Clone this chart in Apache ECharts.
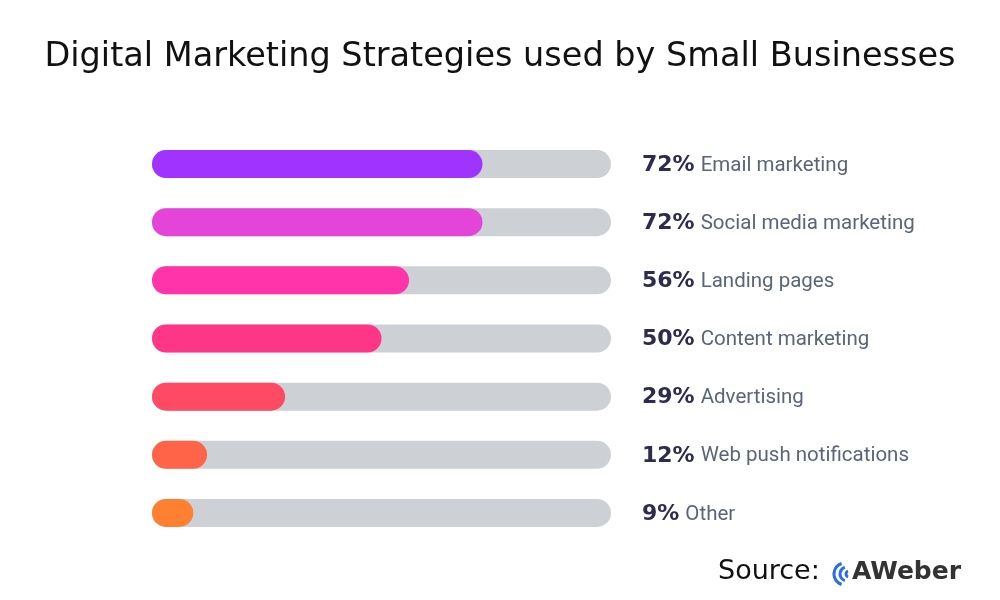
<!DOCTYPE html>
<html><head><meta charset="utf-8">
<script src="https://cdn.jsdelivr.net/npm/echarts@6/dist/echarts.min.js"></script>
<style>html,body{margin:0;padding:0;background:#fff}#c{width:1000px;height:600px}</style>
</head><body><div id="c"></div>
<script>
const categories = ['Email marketing','Social media marketing','Landing pages','Content marketing','Advertising','Web push notifications','Other'];
const values = [72,72,56,50,29,12,9];
const barColors = ['#A033FF','#E444D8','#FF33AA','#FF3688','#FF4A64','#FF6348','#FF8030'];

const chart = echarts.init(document.getElementById('c'));
chart.setOption({
  backgroundColor:'#fff',
  title:{text:'Digital Marketing Strategies used by Small Businesses',left:'center',top:35,
    textStyle:{fontFamily:'DejaVu Sans',fontSize:33.5,fontWeight:'normal',color:'#111'}},
  grid:{left:152,right:389,top:135,bottom:58},
  xAxis:{type:'value',min:0,max:100,show:false},
  yAxis:{type:'category',data:categories,inverse:true,position:'right',
    axisLine:{show:false},axisTick:{show:false},
    axisLabel:{margin:31,align:'left',
      formatter:(v,i)=>'{p|'+values[i]+'%}{c|'+v+'}',
      rich:{p:{fontFamily:'DejaVu Sans',fontWeight:'bold',fontSize:22,color:'#2D2B4E',padding:[2,6,0,0],verticalAlign:'bottom'},
            c:{fontFamily:'Roboto',fontSize:20.5,color:'#5A6577',verticalAlign:'bottom'}}}},
  series:[{type:'bar',barWidth:28,
    showBackground:true,backgroundStyle:{color:'#CDD1D5',borderRadius:14},
    data:values.map((v,i)=>({value:v,itemStyle:{color:barColors[i],borderRadius:14}}))}],
  graphic:[
    {type:'text',left:718,top:558,style:{text:'Source:',font:'27px "DejaVu Sans"',fill:'#111'}},
    {type:'arc',shape:{cx:845,cy:574,r:11,startAngle:Math.PI*0.6,endAngle:Math.PI*1.4},style:{stroke:'#2D6FE0',lineWidth:3,fill:null}},
    {type:'arc',shape:{cx:847,cy:574,r:7,startAngle:Math.PI*0.6,endAngle:Math.PI*1.4},style:{stroke:'#2D6FE0',lineWidth:3,fill:null}},
    {type:'arc',shape:{cx:849,cy:574,r:3,startAngle:Math.PI*0.6,endAngle:Math.PI*1.4},style:{stroke:'#2D6FE0',lineWidth:3,fill:null}},
    {type:'text',left:852,top:560,style:{text:'AWeber',font:'bold 25px "DejaVu Sans"',fill:'#333'}}
  ]
});
</script></body></html>
